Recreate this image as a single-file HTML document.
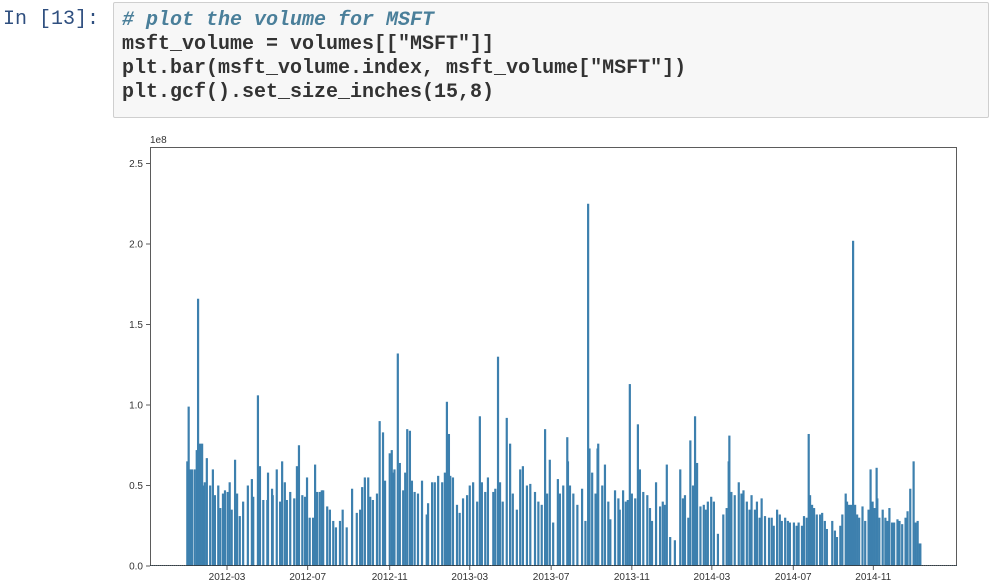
<!DOCTYPE html>
<html><head><meta charset="utf-8"><style>
body{margin:0;width:996px;height:588px;background:#fff;overflow:hidden;position:relative;font-family:"Liberation Sans",sans-serif}
.prompt{position:absolute;left:3px;top:8px;font:20px "Liberation Mono",monospace;color:#2f4f7f}
.cell{position:absolute;left:113px;top:2px;width:874px;height:114px;background:#f7f7f7;border:1px solid #cfcfcf;border-radius:2px}
.code{position:absolute;left:8px;top:6px;margin:0;font:bold 20px/24px "Liberation Mono",monospace;color:#333}
.cm{color:#4a7f9a;font-style:italic}
svg{position:absolute;left:0;top:0}
</style></head><body>
<div class="prompt">In [13]:</div>
<div class="cell"><pre class="code"><span class="cm"># plot the volume for MSFT</span>
msft_volume = volumes[["MSFT"]]
plt.bar(msft_volume.index, msft_volume["MSFT"])
plt.gcf().set_size_inches(15,8)</pre></div>
<svg id="chart" width="996" height="588"></svg>
<script>
const days=[1,3,5,8,12,15,17,20,23,25,27,30,35,39,42,47,50,54,57,61,64,67,72,75,79,84,91,97,99,106,109,114,120,121,127,128,134,139,142,146,149,154,160,164,167,172,176,179,183,188,191,194,198,201,203,209,213,218,222,228,232,238,246,253,258,261,265,270,273,277,283,287,292,295,302,305,306,309,314,317,322,325,328,332,335,339,344,350,357,359,365,369,374,380,384,387,390,392,396,402,406,411,417,421,426,432,436,439,444,448,456,459,463,466,470,476,481,485,491,496,500,506,511,518,523,528,533,536,540,545,552,555,560,566,567,570,575,581,588,593,597,599,603,608,611,612,618,622,627,630,637,642,644,649,653,656,659,662,667,671,674,679,685,689,692,698,704,708,711,714,719,726,734,738,741,746,749,753,756,759,764,769,772,775,780,784,790,798,803,806,807,810,815,821,825,828,833,837,840,845,848,852,855,860,866,870,873,878,882,885,890,894,897,903,907,910,915,918,922,925,927,930,933,937,942,945,949,952,960,964,967,972,975,980,982,985,988,991,994,997,1000,1005,1009,1014,1017,1020,1023,1026,1027,1030,1035,1039,1042,1045,1049,1052,1057,1060,1064,1069,1072,1076,1081,1084,1087,1090,1091];
const volumesM=[65,99,60,60,60,72,166,76,76,50,52,67,50,60,44,50,36,45,47,46,52,35,66,45,31,40,50,54,43,106,62,41,41,58,48,44,60,40,65,52,41,46,42,62,75,44,43,55,30,30,63,46,46,47,47,37,35,28,24,28,35,24,48,33,35,49,55,55,43,41,45,90,83,53,70,72,58,60,132,64,47,58,85,84,53,46,45,53,32,39,52,52,56,52,58,102,82,56,55,38,33,42,44,50,52,40,93,52,46,55,46,48,130,52,40,92,76,45,35,60,62,50,51,46,40,38,85,45,66,27,54,45,50,80,65,50,45,38,48,28,225,73,58,45,73,76,50,63,40,29,47,42,35,47,40,41,113,45,42,88,60,46,44,36,28,52,37,40,38,63,18,16,60,42,44,30,78,50,93,64,37,38,35,40,43,40,20,32,36,65,81,46,44,52,45,47,40,35,44,35,40,30,42,31,30,30,25,35,32,28,30,28,27,27,25,27,25,31,30,82,44,38,36,32,32,33,28,23,28,22,18,25,32,45,40,38,38,202,38,32,30,37,28,35,60,40,36,61,42,30,35,30,28,36,27,27,29,28,26,30,34,48,65,27,28,14,14];
const yTicks=[0,50,100,150,200,250];
const yTickLabels=["0.0","0.5","1.0","1.5","2.0","2.5"];
const xTickDays=[60,180,302,421,542,662,781,902,1021];
const xTickLabels=["2012-03","2012-07","2012-11","2013-03","2013-07","2013-11","2014-03","2014-07","2014-11"];

const L=150,R=957,T=147,B=566;
const xS=d=>186.65+d*0.6725;
const yS=v=>B-v*1.61;
const svg=document.getElementById('chart');
const NS='http://www.w3.org/2000/svg';
function mk(tag,attrs){const e=document.createElementNS(NS,tag);for(const k in attrs)e.setAttribute(k,attrs[k]);svg.appendChild(e);return e;}
for(let i=0;i<days.length;i++){
  const x=xS(days[i]),y=yS(volumesM[i]);
  const r=mk('rect',{x:(x-1.1).toFixed(2),y:y.toFixed(2),width:2.2,height:(B-y).toFixed(2),fill:'#3d80ae'});
  
  
}
const base=mk('line',{x1:L,x2:R,y1:B-0.5,y2:B-0.5,stroke:'#1f77b4','stroke-width':1,'stroke-dasharray':'1 1'});


const frame=mk('rect',{x:L+0.5,y:T+0.5,width:R-L-1,height:B-T-1,fill:'none',stroke:'#333','stroke-width':0.8});


for(let i=0;i<yTicks.length;i++){
  const y=yS(yTicks[i]);
  const t=mk('line',{x1:L-4,x2:L,y1:y,y2:y,stroke:'#333','stroke-width':0.8});
  
  
  const lb=mk('text',{x:L-7,y:y+3.5,'text-anchor':'end','font-size':10,fill:'#333','font-family':'Liberation Sans, sans-serif'});
  lb.textContent=yTickLabels[i];
  
  
}
for(let i=0;i<xTickDays.length;i++){
  const x=xS(xTickDays[i]);
  const t=mk('line',{x1:x,x2:x,y1:B,y2:B+4,stroke:'#333','stroke-width':0.8});
  
  
  const lb=mk('text',{x:x,y:B+14,'text-anchor':'middle','font-size':10,fill:'#333','font-family':'Liberation Sans, sans-serif'});
  lb.textContent=xTickLabels[i];
  
  
}
const off=mk('text',{x:L,y:T-4,'font-size':10,fill:'#333','font-family':'Liberation Sans, sans-serif'});
off.textContent='1e8';


</script>
</body></html>
